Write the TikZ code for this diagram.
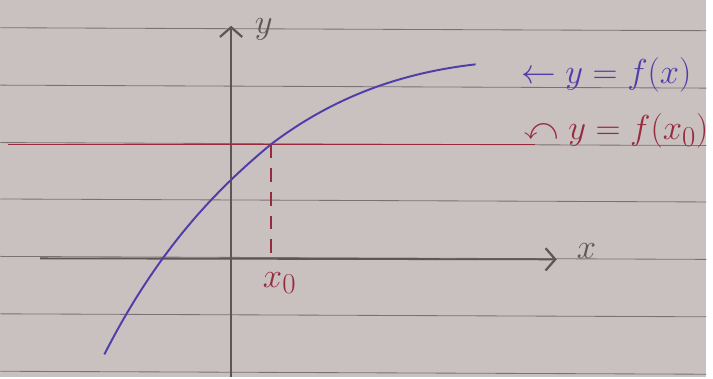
\documentclass[tikz,border=0pt]{standalone}
\usepackage{fix-cm}
\usepackage{amssymb}
\usetikzlibrary{arrows.meta}

\definecolor{paper}{RGB}{201,192,192}
\definecolor{ruling}{RGB}{122,114,114}
\definecolor{pencil}{RGB}{92,86,86}
\definecolor{bluepen}{RGB}{78,62,168}
\definecolor{redpen}{RGB}{152,42,62}

\begin{document}
\begin{tikzpicture}[x=0.025cm, y=-0.025cm,
    axis/.style={pencil, line width=1.3pt, -{Straight Barb[length=7pt, width=16pt, line width=1.6pt]}},
    hand/.style={font=\fontsize{24.88}{30}\selectfont}]
    % draw paper and ruled lines
    \fill[paper] (0,0) rectangle (713,381);
    \foreach \y in {28,86,144,201,259,317,375}
      \draw[ruling, line width=0.6pt] (0,\y) -- (713,\y+3);

    % draw axes
    \coordinate (xs) at (40,261);
    \coordinate (xe) at (562,262);
    \coordinate (ys) at (233,381);
    \coordinate (ye) at (233,26);
    \draw[axis] (xs) -- (xe);
    \draw[axis] (ys) -- (ye);
    \node[hand, pencil] (xlabel) at (592,254) {$x$};
    \node[hand, pencil] (ylabel) at (266,30) {$y$};

    % draw horizontal line y = f(x0)
    \coordinate (hs) at (8,146);
    \coordinate (he) at (540,146);
    \coordinate (p0) at (273,146);
    \coordinate (x0) at (273,262);
    \draw[redpen, line width=1.3pt] (hs) -- (he);
    \draw[redpen, line width=1.3pt, dash pattern=on 10pt off 7pt] (p0) -- (x0);
    \node[hand, redpen] (x0label) at (282,286) {$x_0$};

    % draw curve y = f(x)
    \coordinate (c0) at (105,358);
    \coordinate (c1) at (480,65);
    \draw[bluepen, line width=1.4pt] (c0) .. controls (160,250) and (220,190) .. (p0)
      .. controls (340,95) and (410,73) .. (c1);

    % draw labels
    \node[hand, bluepen] (flabel) at (612,76) {$\leftarrow y = f(x)$};
    \node[hand, redpen] (f0label) at (622,132) {$\curvearrowleft y = f(x_0)$};
\end{tikzpicture}
\end{document}
